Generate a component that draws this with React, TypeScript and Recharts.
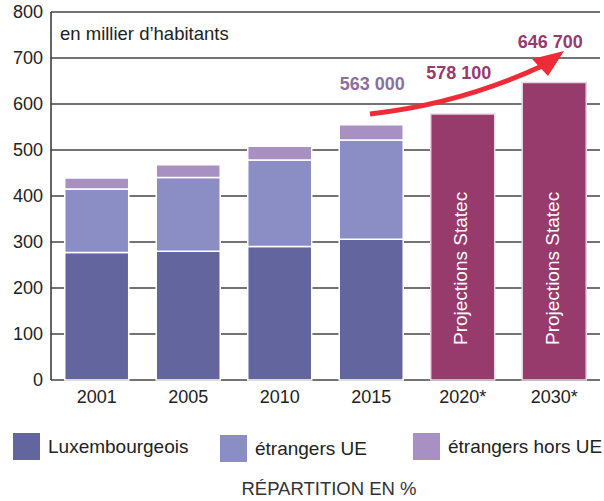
import { Bar, BarChart, CartesianGrid, Customized, LabelList, XAxis, YAxis } from 'recharts'

const years = ['2001', '2005', '2010', '2015', '2020*', '2030*']
const luxembourgeois = [277, 280, 290, 306, null, null]
const etrangersUE = [138, 160, 188, 216, null, null]
const etrangersHorsUE = [24, 28, 30, 33, null, null]
const projections = [null, null, null, null, 578.1, 646.7]
const totalLabels = ['', '', '', '563 000', '578 100', '646 700']
const yTicks = [0, 100, 200, 300, 400, 500, 600, 700, 800]

const data = years.map((year, i) => ({
  year,
  lux: luxembourgeois[i],
  ue: etrangersUE[i],
  horsUE: etrangersHorsUE[i],
  proj: projections[i],
  histLabel: projections[i] == null ? totalLabels[i] : '',
  projLabel: projections[i] == null ? '' : totalLabels[i],
}))

const FONT = '"Liberation Sans", Arial, sans-serif'
const C_LUX = '#63659e'
const C_UE = '#8b8ec4'
const C_HORS = '#a990c2'
const C_PROJ = '#973a6c'

const legendItems = [
  { label: 'Luxembourgeois', color: C_LUX, x: 13, y: 433 },
  { label: 'étrangers UE', color: C_UE, x: 220, y: 435 },
  { label: 'étrangers hors UE', color: C_HORS, x: 413, y: 433 },
]

function makeTotalLabel(color: string, dx: number) {
  return (props: any) => {
    const { x, y, width, value } = props
    if (!value || y == null) return null
    return (
      <text
        x={x + width / 2 + dx}
        y={y - 41}
        textAnchor='middle'
        dominantBaseline='central'
        fill={color}
        fontSize={18}
        fontWeight='bold'
        fontFamily={FONT}
      >
        {value}
      </text>
    )
  }
}

const HistLabel = makeTotalLabel('#8b6f9f', 1)
const ProjTotal = makeTotalLabel(C_PROJ, -4)

function ProjLabel(props: any) {
  const { x, y, width, height, value } = props
  if (value == null || !height) return null
  const cx = x + width / 2 - 2
  const by = y + height - 35
  return (
    <text
      x={cx}
      y={by}
      transform={`rotate(-90 ${cx} ${by})`}
      textAnchor='start'
      dominantBaseline='central'
      fill='#ffffff'
      fontSize={19}
      fontFamily={FONT}
    >
      Projections Statec
    </text>
  )
}

function Arrow() {
  return (
    <g>
      <path d='M370 114 Q 460 104 542 66' fill='none' stroke='#ee2b36' strokeWidth={5} />
      <polygon points='532,59 564,51 548,76' fill='#ee2b36' />
    </g>
  )
}

export default function App() {
  return (
    <div style={{ position: 'absolute', left: 0, top: 0, width: 604, height: 501, background: '#fff', fontFamily: FONT }}>
      <BarChart
        width={604}
        height={420}
        data={data}
        margin={{ top: 12, right: 4, left: 6, bottom: 10 }}
        barCategoryGap='15%'
      >
        <CartesianGrid vertical={false} stroke='#444' strokeWidth={1.5} />
        <XAxis
          dataKey='year'
          axisLine={false}
          tickLine={false}
          height={30}
          tickMargin={4}
          tick={{ fill: '#222', fontSize: 18, fontFamily: FONT }}
        />
        <YAxis
          domain={[0, 800]}
          ticks={yTicks}
          width={45}
          axisLine={{ stroke: '#333', strokeWidth: 1.5 }}
          tickLine={false}
          tick={{ fill: '#222', fontSize: 18, fontFamily: FONT }}
        />
        <Bar dataKey='lux' stackId='a' fill={C_LUX} stroke='#fff' strokeWidth={1.5} isAnimationActive={false} />
        <Bar dataKey='ue' stackId='a' fill={C_UE} stroke='#fff' strokeWidth={1.5} isAnimationActive={false} />
        <Bar dataKey='horsUE' stackId='a' fill={C_HORS} stroke='#fff' strokeWidth={1.5} isAnimationActive={false}>
          <LabelList dataKey='histLabel' content={HistLabel} />
        </Bar>
        <Bar dataKey='proj' stackId='a' fill={C_PROJ} stroke='#e6d6e2' strokeWidth={1.5} isAnimationActive={false}>
          <LabelList dataKey='proj' content={ProjLabel} />
          <LabelList dataKey='projLabel' content={ProjTotal} />
        </Bar>
        <Customized component={Arrow} />
        <text x={60} y={33} dominantBaseline='central' fill='#222' fontSize={18.5} fontFamily={FONT}>
          en millier d’habitants
        </text>
      </BarChart>
      {legendItems.map((item) => (
        <div key={item.label} style={{ position: 'absolute', left: item.x, top: item.y, display: 'flex', alignItems: 'center' }}>
          <div style={{ width: 27, height: 27, background: item.color }} />
          <span style={{ marginLeft: 8, fontSize: 19, color: '#222', lineHeight: '27px' }}>{item.label}</span>
        </div>
      ))}
      <div style={{ position: 'absolute', left: 0, width: 658, top: 478, textAlign: 'center', fontSize: 18.5, color: '#333' }}>
        RÉPARTITION EN %
      </div>
    </div>
  )
}
